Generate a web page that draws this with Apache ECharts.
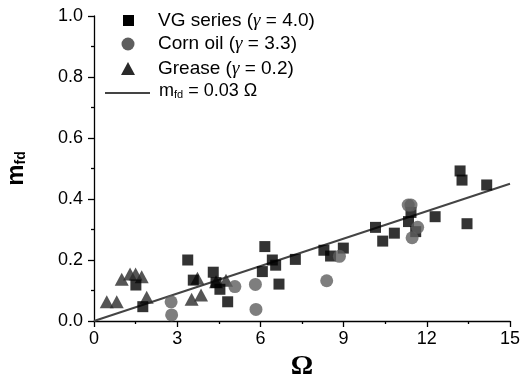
<!DOCTYPE html>
<html><head><meta charset="utf-8">
<script src="https://cdn.jsdelivr.net/npm/echarts@6/dist/echarts.min.js"></script>
<style>html,body{margin:0;padding:0;background:#fff}#c{width:528px;height:380px}</style>
</head><body><div id="c"></div>
<script>
const vgSeries = [
  [1.51,0.118],[1.76,0.047],[3.38,0.200],[3.58,0.134],[4.30,0.160],[4.40,0.126],
  [4.54,0.104],[4.82,0.063],[6.16,0.244],[6.07,0.162],[6.43,0.200],[6.55,0.183],
  [6.67,0.121],[7.26,0.202],[8.29,0.232],[8.53,0.213],[8.99,0.239],[10.15,0.307],
  [10.41,0.262],[10.83,0.288],[11.34,0.326],[11.43,0.356],[11.60,0.293],[12.30,0.342],
  [13.20,0.492],[13.27,0.462],[13.45,0.319],[14.16,0.446]
];
const cornOil = [
  [2.78,0.063],[2.80,0.020],[5.08,0.113],[5.82,0.120],[5.84,0.038],[8.39,0.132],
  [8.85,0.212],[11.33,0.380],[11.43,0.380],[11.67,0.307],[11.47,0.273]
];
const grease = [
  [0.46,0.063],[0.82,0.063],[1.00,0.137],[1.30,0.154],[1.50,0.154],[1.72,0.145],
  [1.90,0.078],[3.52,0.071],[3.73,0.140],[3.86,0.085],[4.40,0.129],[4.76,0.134]
];
const fitLine = [[0,0],[15,0.45]];
const xTicks = [0,3,6,9,12,15];
const yTicks = [0.0,0.2,0.4,0.6,0.8,1.0];

const chart = echarts.init(document.getElementById('c'));
const font = 'Liberation Sans, Arial, sans-serif';
const serif = 'Liberation Serif, Times New Roman, serif';
const axisCommon = {
  axisLine:{show:true,lineStyle:{color:'#000',width:1.3}},
  axisTick:{show:true,inside:false,length:6,lineStyle:{color:'#000',width:1.3}},
  minorTick:{show:true,splitNumber:2,length:3,lineStyle:{color:'#000',width:1.3}},
  splitLine:{show:false},
};
const g = {fontFamily:serif,fontStyle:'italic',fontSize:19,color:'#000'};
chart.setOption({
  animation:false,
  grid:{left:94,right:18,top:16,bottom:59,containLabel:false,outerBoundsMode:'none'},
  xAxis:Object.assign({type:'value',min:0,max:15,interval:3,
    name:'Ω',nameLocation:'middle',nameGap:30,
    nameTextStyle:{fontFamily:serif,fontSize:28,fontWeight:'bold',color:'#000'},
    axisLabel:{fontFamily:font,fontSize:18,color:'#000',margin:9,
      formatter:v=>xTicks.includes(v)?String(v):''}},axisCommon),
  yAxis:Object.assign({type:'value',min:0,max:1,interval:0.2,
    name:'{m|m}{s|fd}',nameLocation:'middle',nameGap:66,nameRotate:90,
    nameTextStyle:{rich:{m:{fontFamily:font,fontSize:24,fontWeight:'bold',color:'#000'},
      s:{fontFamily:font,fontSize:14,fontWeight:'bold',color:'#000',verticalAlign:'bottom',padding:[10,0,0,0]}}},
    axisLabel:{fontFamily:font,fontSize:18,color:'#000',margin:11,
      formatter:v=>{const t=yTicks.find(a=>Math.abs(a-v)<1e-9);return t===undefined?'':t.toFixed(1);}}},axisCommon),
  series:[
    {type:'line',data:fitLine,symbol:'none',lineStyle:{color:'#444',width:2},z:1},
    {type:'scatter',data:grease,symbol:'triangle',symbolSize:[14,13],itemStyle:{color:'#2a2a2a'},z:2},
    {type:'scatter',data:vgSeries,symbol:'rect',symbolSize:11,itemStyle:{color:'#000'},z:3},
    {type:'scatter',data:cornOil,symbol:'circle',symbolSize:13,itemStyle:{color:'#5e5e5e'},z:4},
  ],
  graphic:[
    {type:'rect',shape:{x:123,y:15,width:11,height:11},style:{fill:'#000'}},
    {type:'circle',shape:{cx:128,cy:44,r:6.5},style:{fill:'#5e5e5e'}},
    {type:'polygon',shape:{points:[[128,62],[135,75],[121,75]]},style:{fill:'#2a2a2a'}},
    {type:'line',shape:{x1:105,y1:93,x2:150,y2:93},style:{stroke:'#444',lineWidth:2}},
    {type:'text',x:158,y:21,style:{text:'VG series ({g|γ} = 4.0)',font:'19px '+font,fill:'#000',verticalAlign:'middle',rich:{g}}},
    {type:'text',x:158,y:44,style:{text:'Corn oil ({g|γ} = 3.3)',font:'19px '+font,fill:'#000',verticalAlign:'middle',rich:{g}}},
    {type:'text',x:158,y:69,style:{text:'Grease ({g|γ} = 0.2)',font:'19px '+font,fill:'#000',verticalAlign:'middle',rich:{g}}},
    {type:'text',x:159,y:91,style:{text:'{t|m}{s|fd}{t| = 0.03 Ω}',fill:'#000',verticalAlign:'middle',
      rich:{t:{fontFamily:font,fontSize:18,color:'#000'},s:{fontFamily:font,fontSize:11,color:'#000',verticalAlign:'bottom',padding:[8,0,0,0]}}}},
  ]
});
</script></body></html>
